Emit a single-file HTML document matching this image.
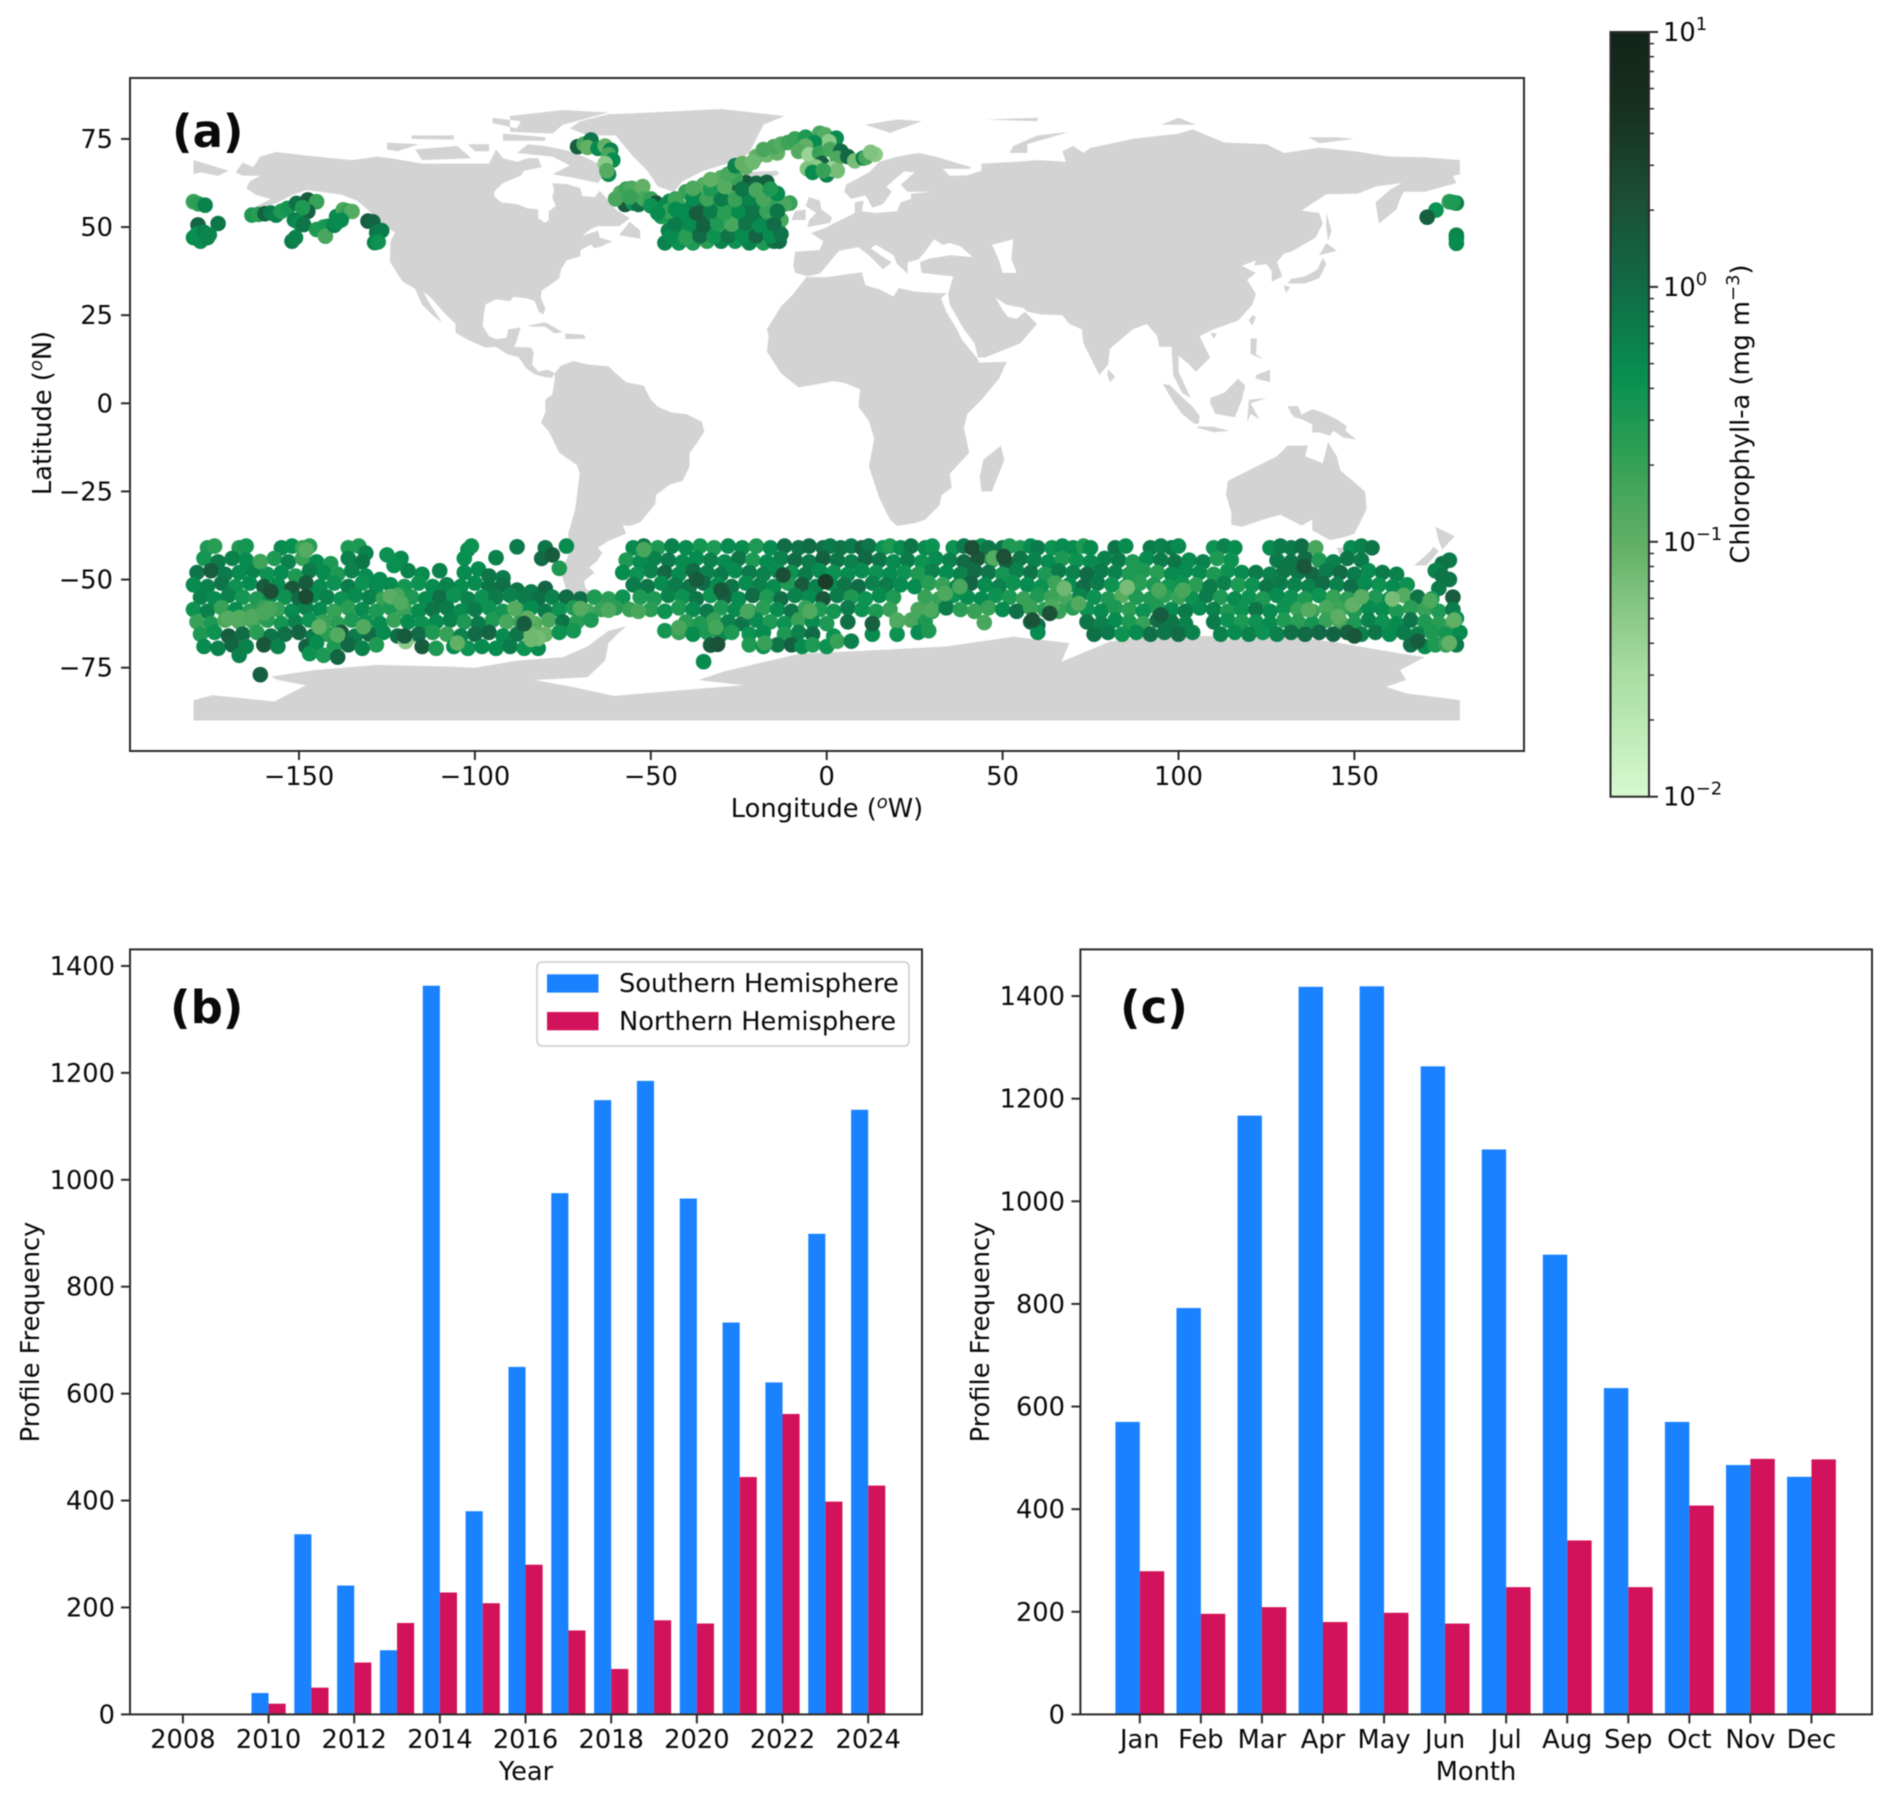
<!DOCTYPE html>
<html lang="en">
<head>
<meta charset="utf-8">
<title>Chlorophyll-a profile distribution</title>
<style>
html,body{margin:0;padding:0;background:#fff}
svg{display:block;filter:blur(.45px)}
text{font-family:"DejaVu Sans","Liberation Sans",sans-serif;fill:#0a0a0a}
</style>
</head>
<body>
<svg id="figure" xmlns="http://www.w3.org/2000/svg" width="1892" height="1799" viewBox="0 0 1892 1799">
<defs><linearGradient id="algae" x1="0" y1="1" x2="0" y2="0"></linearGradient></defs>
<rect width="1892" height="1799" fill="#fff"/>
<g id="panel-a"></g>
<g id="panel-cbar"></g>
<g id="panel-b"></g>
<g id="panel-c"></g>
</svg>
<script>
/* ---------- bar chart data ---------- */
const years=[2008,2009,2010,2011,2012,2013,2014,2015,2016,2017,2018,2019,2020,2021,2022,2023,2024];
const yearSouth=[0,0,40,337,241,120,1363,380,650,975,1149,1185,965,733,621,899,1131];
const yearNorth=[0,0,20,50,97,171,228,208,280,157,85,176,170,444,562,398,428];
const yearTicks=[2008,2010,2012,2014,2016,2018,2020,2022,2024];
const months=['Jan','Feb','Mar','Apr','May','Jun','Jul','Aug','Sep','Oct','Nov','Dec'];
const monthSouth=[570,792,1167,1418,1419,1263,1101,896,636,570,486,463];
const monthNorth=[279,196,209,180,198,177,248,339,248,407,498,497];
const freqTicks=[0,200,400,600,800,1000,1200,1400];
const lonTicks=[-150,-100,-50,0,50,100,150];
const latTicks=[75,50,25,0,-25,-50,-75];
const cbarMajor=[-2,-1,0,1];
const cbarMinorMult=[2,3,4,5,6,7,8,9];

/* ---------- colormap ---------- */
const cmapPos=[0,.17,.33,.45,.55,.67,.78,.9,1];
const cmapCol=[[215,249,208],[166,219,160],[98,176,101],[47,159,85],[7,144,80],[17,106,70],[28,79,54],[23,48,31],[18,36,26]];

/* ---------- land (lon, lat) ---------- */
const landNorthAmerica=[[-168,65.5],[-166,68.3],[-163,67],[-161,70],[-156.5,71.3],[-150,70.5],[-141,69.6],[-135,69],[-128,70],[-124,69.5],[-115,68],[-108,68],[-100,68],[-96,68],[-94,72],[-92,69.5],[-88,68.5],[-85,69.5],[-82,69.5],[-81,67],[-86,66],[-87,64.5],[-92,62.5],[-94.5,60],[-94.5,58.7],[-92.5,57],[-88,56.5],[-85,55.3],[-82,55],[-82,52.5],[-80,51.2],[-79,52],[-79,54.5],[-77,56],[-78,58.5],[-77.5,60.5],[-78,62.4],[-74,62.2],[-70,61],[-69.5,58.8],[-66,58.5],[-64.5,60.3],[-62,57.5],[-60,55],[-56,52.5],[-59,50.2],[-65,50.2],[-67,49.5],[-69.5,47.5],[-65,49],[-64.5,47],[-61,46],[-64,44.5],[-66,44],[-67,45],[-70,43.5],[-70,41.7],[-74,40.5],[-75.5,38],[-76,35.5],[-78,34],[-81,32],[-81.3,30],[-80,27],[-80.5,25.2],[-81.8,26],[-83,29],[-85,29.7],[-89,30.2],[-90,29],[-94,29.5],[-97,28],[-97.5,25],[-97.8,22],[-96,19],[-94,18.2],[-91,18.6],[-90.5,21],[-87,21.5],[-88,18],[-88.8,16],[-84,15.8],[-83.3,14.5],[-83.7,11],[-82,9],[-79.5,9.5],[-77.3,8.6],[-78,7.3],[-80,7.4],[-83,8.2],[-85.5,10],[-87.5,13],[-91,14],[-94,16],[-97,15.8],[-102,18],[-105.5,20],[-105.5,22.5],[-109,26],[-112.5,30],[-114.7,31.7],[-113,28.5],[-110,24],[-109.5,23],[-112,25],[-115,28],[-117,32.5],[-120.5,34.5],[-122.5,37.5],[-124.2,40.3],[-124,46],[-122.7,48.5],[-127,51],[-130,54.5],[-133.5,57.5],[-138,59.2],[-144,60],[-148,60.5],[-152,59],[-156,57],[-161,55.2],[-164.5,54.7],[-158,58],[-162,59],[-165,61],[-164,63],[-161,64.5],[-166,64.6]];
const landSouthAmerica=[[-77.3,8.6],[-75.5,10.7],[-72,12],[-68,11],[-62,10.5],[-60,8.5],[-57,6],[-52,5],[-50,1],[-48,-1],[-44,-2.7],[-40,-3],[-35.5,-5.2],[-34.8,-8],[-37,-11.5],[-39,-14],[-39,-18],[-41,-22],[-44.5,-23],[-48.5,-26],[-48.7,-28.5],[-53,-33.8],[-56,-34.8],[-58,-34.5],[-57,-37],[-62,-39],[-65,-41],[-63.8,-42.5],[-65.5,-45],[-67.5,-46.5],[-66,-48],[-69,-50.5],[-68.5,-52.5],[-65,-55],[-69,-55.5],[-74,-53],[-75.5,-48],[-73,-42],[-73.5,-37],[-71.5,-30],[-70.2,-20],[-71,-17.5],[-76,-14],[-79,-8],[-81.2,-5.5],[-80,-2.5],[-80,1],[-78,2.5],[-77.3,7]];
const landGreenland=[[-73,78],[-68,76],[-60,76],[-55,70],[-51,66],[-48,61.5],[-43.5,60],[-41,63],[-35,66],[-25,69],[-22,71],[-20,75],[-18,79],[-12,81.5],[-30,83.5],[-50,82.5],[-62,82],[-70,80]];
const landAfrica=[[-5.8,35.8],[0,35.8],[10,37.2],[11,33.5],[15,32.3],[19,30.3],[20.5,32.7],[25,31.7],[32,31.2],[34.2,31.3],[32.5,29.8],[34,26],[37,21],[38.5,18],[43,12.5],[43.3,11.5],[51.2,11.8],[49,7],[44,1],[40,-3],[39,-7],[40.5,-14],[35,-20],[35.5,-24],[32.7,-26],[32,-29],[28,-33],[25,-34],[20,-34.8],[18,-33],[15,-27],[12,-18],[13.5,-10],[12,-5],[9,-1],[9.5,4],[5,5.8],[2,6.3],[-4,5.2],[-8,4.5],[-13,8.5],[-17,14.7],[-16.5,19],[-17,21],[-13,27.5],[-9.5,31]];
const landEurasia=[[-9,37],[-9.5,39],[-9,43],[-2,43.5],[-1,46],[-4.5,48.3],[-1,49.5],[2,51],[4,52],[8,54],[8,57],[10.5,57.5],[10,54.5],[14,54],[20,54.5],[21,57],[24,58],[24,59.5],[30,60],[23,60],[21,62],[25,65.5],[22,65.8],[17,61.5],[18.5,60],[16,56.5],[13,55.5],[11,59],[7,58],[5,60],[5.5,62],[12,65.5],[15,68.5],[20,70],[26,71],[31,70],[41,67],[41,66.5],[33,66.5],[35,64.5],[40,64.7],[44,66],[44,68],[54,68.5],[60,69],[68,68.5],[67,71.5],[70,73],[73,71],[75,72.5],[80,73.5],[87,75],[100,76.5],[104,77.7],[113,74],[125,73.5],[130,71],[140,72.5],[150,71.5],[160,70],[170,69.8],[180,69],[180,65],[178,64.5],[179,62.5],[170,60],[164,60],[163,58],[162,55],[157,51],[156,57],[160,60.5],[163.5,62.5],[156,61.5],[151,59.5],[142,59.3],[135,54.7],[140,54],[141,51],[139,47],[132,43],[130,42.5],[128,40],[129.5,36],[126.5,34.5],[126.5,37.5],[125,39.5],[121.5,39],[122,40.5],[118,39],[122,37],[119.5,35],[122,31],[121,28],[117,23.5],[110,21],[106,19],[109,13],[105,9],[103,11],[100,13.5],[100,9],[103.5,1.5],[101,3],[98.5,8],[98,16],[94.5,16],[94,19],[91,22.5],[87,21],[80.5,15.5],[80,11],[77.5,8],[73,17],[72.5,21],[69,22.5],[67,25],[61,25.2],[57,26],[56,27],[51,28],[48,30],[50,26.5],[51.5,24.5],[54,24],[56.3,26],[59.8,22.5],[55,17],[45,13],[43,13],[42,17],[39,21],[35,28],[34.5,31],[36,36],[31,36.5],[27,37],[26.5,40],[29,41],[35,42],[41.5,41.5],[38,44.5],[35,45.5],[33,45],[30.5,46.5],[28,43],[26,40.8],[23,40],[23,36.8],[20,39.5],[19,42],[14,45],[12.5,44],[16,41.5],[18.5,40],[16,38],[12,42],[9,44.3],[3.5,43.3],[0,39],[-2,36.8],[-5.5,36]];
const landAustralia=[[114,-22],[113.5,-26],[115,-31],[115,-34.4],[118,-35],[124,-33],[129,-31.6],[135,-34.7],[138,-33],[138,-36],[143,-38.8],[147,-38],[150,-37],[153.5,-30],[153,-25],[146,-19],[145,-15],[142.5,-11],[141,-17],[136,-15],[136.8,-12],[131,-12],[128,-15],[122,-18]];
const landAntarctica=[[-180,-84.2],[-174.6,-82.8],[-157,-84.6],[-148,-80],[-156,-78.5],[-158,-77.5],[-145.6,-75.7],[-128,-74.2],[-107.6,-74.7],[-100,-75],[-88,-73],[-75,-72],[-68,-69],[-62,-64.5],[-57,-63.3],[-59,-65],[-62,-68],[-63,-73],[-68,-77.7],[-83,-78.5],[-72,-80.5],[-60.5,-83],[-41.7,-81.4],[-23.7,-80],[-36.5,-78.5],[-29,-76],[-7.6,-71],[10.4,-70.2],[33.8,-69],[53,-66.2],[69,-68],[66.7,-73.3],[80.5,-67.6],[91.6,-66.2],[109.6,-66],[113,-67],[130.4,-66],[144,-67.7],[162,-70.8],[170,-72],[163,-75.7],[164.7,-78.5],[159,-80.4],[164.7,-82.3],[180,-84.2],[180,-90],[-180,-90]];
const landIslands=[
[[-180,69],[-175,67.5],[-170,66],[-173,64.5],[-178,65.5],[-180,65]],
[[-80,73],[-73,71.5],[-68,69.5],[-62,66.5],[-65,62.5],[-72,64],[-78,65],[-73,67.5],[-78,70],[-88,71],[-85,73.5]],
[[-117,72],[-105,73],[-101,69.5],[-115,69]],
[[-125,74],[-116,73.5],[-122,71.5],[-125,72]],
[[-90,77],[-78,76.5],[-75,79],[-62,82.5],[-75,83.2],[-90,81.5]],
[[-92,76.5],[-80,75.5],[-80,74.5],[-92,74.5]],
[[-118,76],[-106,76],[-106,74.8],[-118,75]],
[[-95,81],[-87,80],[-88,78],[-95,79.5]],
[[-102,73.5],[-96,73.5],[-96,71.5],[-100,71.5]],
[[-59,47.7],[-53,46.7],[-53,49],[-56,51.5]],
[[-85,22],[-80,23],[-75,20.2],[-77.5,19.9],[-80,21.7],[-84,21.8]],
[[-74.3,19.8],[-69,19.5],[-68.5,18.3],[-74.3,18.2]],
[[-5.5,50],[1,51.2],[1.5,52.8],[-1.5,55],[-2,57.5],[-5,58.5],[-6,56],[-3,54],[-5,52]],
[[-10,52],[-6,52],[-6,55],[-9,54.5]],
[[-24,65.5],[-14,66],[-13.5,65],[-18,63.4],[-22.5,64]],
[[11,79],[20,80.5],[27,80],[18,76.7]],
[[52,71],[57,71],[57,73.5],[69,77],[60,76],[53,73]],
[[95,79],[105,79],[100,81]],
[[45,80.5],[60,81],[60,80]],
[[137,75.5],[145,75.5],[150,75],[140,73.8]],
[[131,34],[136,34],[140,35.5],[142,39.5],[141,41.3],[139.5,38],[136,36],[132,35.3]],
[[140,42],[145,43.3],[142,45.5]],
[[130,33.5],[131.8,33],[130.5,31.2]],
[[142,54],[143.5,49],[142.5,46],[142,50]],
[[121,25],[122,24.5],[121,22],[120,23.5]],
[[109,20],[111,19.8],[110,18.3]],
[[80,9.7],[82,7.5],[80.5,6],[79.8,8]],
[[120.5,18.5],[122.3,18.3],[122,14],[124,12.5],[120.5,14]],
[[122,8],[126,9.5],[126,6],[122,7]],
[[109,1.5],[113,3],[117,7],[119,5],[118,1],[116,-4],[110.5,-3],[109,0]],
[[95.5,5.5],[97.5,5.2],[100.5,2.2],[104,-1],[106,-3.5],[105.8,-5.8],[104.5,-5.8],[101,-3],[98.5,.5]],
[[105.5,-6.5],[110,-6.7],[114.5,-7.8],[110,-8.2],[105.5,-7]],
[[119.5,-5.5],[120,1],[125,1.5],[120.5,0],[123,-4.5],[120.5,-3]],
[[131,-.8],[134,-.8],[135,-3.2],[138,-1.7],[141,-2.6],[145,-4.5],[147.8,-6.5],[147.5,-7.8],[150.5,-10.3],[147,-9.8],[144,-7.8],[143,-9.2],[140,-8.2],[138,-8.3],[138,-6],[135,-4.5],[133,-4],[132,-2.8]],
[[145,-41],[148,-41],[147,-43.5],[146,-43.5]],
[[173,-35],[178.5,-37.7],[175,-41.5],[174,-39]],
[[172.5,-40.7],[174,-42],[170.5,-46],[167,-46],[171,-42.5]],
[[49.5,-12],[50.5,-16],[47,-25],[44,-25],[43.5,-21],[44.5,-16]]
];
const inlandSeas=[[[47,45],[53,46.5],[52.5,41],[54,37],[50,37],[49,40.5]]];

/* ---------- float profile locations: lon, lat, chl (mg m-3) ---------- */
const northPacificProfiles=[[-180,57.2,.2],[-178.6,56.6,.25],[-176.7,56.2,.6],[-178.7,50.6,1.2],[-173,51,.8],[-180,47,.5],[-178,46,.5],[-176,47,.6],[-179,48,.45],[-177,48.5,.6],[-175.5,47.8,.55],[-163.4,53.4,.3],[-161.5,53.6,.25],[-159.7,53.8,1.3],[-158,54,.7],[-156.5,53.4,.6],[-155,54.5,.3],[-153.3,55.3,.35],[-150.7,56.7,.9],[-147.5,57.7,1.5],[-145,57.2,.2],[-147.5,54.4,1.3],[-149,55.5,.3],[-151.3,52,.6],[-150,51.2,.5],[-148.7,50.7,.8],[-152,46,.7],[-151,47,.6],[-145,49.3,.3],[-143,50,.3],[-141.8,50.2,.35],[-142.5,47.4,.15],[-140,50.5,.6],[-139.3,53,.5],[-137.4,54.9,.15],[-136,54.5,.2],[-134.9,54.4,.12],[-138,52,.5],[-139.3,51.2,.5],[-130.4,51.7,1.5],[-129,51.5,1.2],[-127.9,48.4,.8],[-126.5,49,.7],[-128.5,45.6,.6],[-127.5,45.8,.4]];
const northAtlanticProfiles=[[-70.8,72.8,1.4],[-69,73.5,.15],[-67,74.7,.8],[-68,72.6,.1],[-65,72.3,.5],[-63,73,.1],[-61.4,71.8,.6],[-62,70.5,.15],[-60.8,69,.5],[-63,68,.05],[-62,65,.5],[-62.5,66,.12],[-58.6,59.7,.12],[-57,60.8,.18],[-55.5,61,.14],[-53.5,60,.12],[-52.3,61.5,.1],[-57.3,56.4,1.6],[-55,56.8,.4],[-53.5,56.4,.9],[-52,58,.15],[-50,58,.2],[-48.5,56.8,1.8],[-46,56,.5],[-44.7,57.3,.5],[-46,45.5,.6],[-42,45.5,.4],[-38,45.5,.3],[-34,46,.25],[-30,46,.6],[-26,46,.4],[-22,45.5,.6],[-18,45.5,.3],[-15,46,.8],[-13.5,46,1],[-45,49,.6],[-41,49,.35],[-37,49.5,.8],[-33,49,.5],[-29,50,.15],[-25,49.5,.9],[-21,49,.4],[-17,50,.6],[-14,49.5,.9],[-44,52.5,.4],[-40,53,.6],[-36,52,1.4],[-32,53,.2],[-28,52,.7],[-24,53,.5],[-20,52,1.1],[-16,52.5,.3],[-13,52,.15],[-47,53,.3],[-42,56,.15],[-38,56,.8],[-34,56,1],[-30,56.5,.2],[-26,55.5,.3],[-22,56,1.2],[-18,56,.6],[-14,57,.2],[-10.5,56.8,.2],[-12,56.5,.15],[-40,60,.2],[-36,59,.4],[-32,60,.25],[-29,58.5,1.1],[-27,60,.13],[-24,59,.5],[-20,59,.2],[-16,59,.2],[-35,62,.12],[-31,61.5,.1],[-26,62.5,1.5],[-23,62.6,1.7],[-20,62.4,1.2],[-17,62.7,1.3],[-30,64,.12],[-26,64,.2],
[-44,47.5,.5],[-40,47,.25],[-36,47.5,1],[-32,47.5,.4],[-28,47.5,.8],[-24,47.5,.5],[-20,47.5,1.2],[-16,47.5,.5],[-13,48,.8],[-43,50.8,.7],[-39,51,.5],[-35,50.5,1.3],[-31,51,.3],[-27,50.8,.15],[-23,51,.8],[-19,50.5,.5],[-15,51,1],[-45,54.5,.2],[-41,54.5,.5],[-37,54,1.5],[-33,54.5,.7],[-29,54,.25],[-25,54.5,.5],[-21,54,.8],[-17,54.5,.2],[-14,54.5,.8],[-43,58,.18],[-38,58,.5],[-34,58,.18],[-30,58,.7],[-26,57.8,.2],[-22,58,.6],[-18,58,.15],[-14,59.5,.5],[-38,61,.14],[-33,60.8,.3],[-29,61.5,.12],[-24,60.8,.8],[-20,60.5,.15],[-16,60.8,.3],[-33,63.5,.1],[-28,65,.15],[-60,58,.15],[-56,58.5,.2],[-50,56,.4],[-43,55,.5],[-48,54,.5],[-20,70,.1],[-17,70.5,.08],[-23,67,.1],[-14,71,.1]];
const nordicProfiles=[[-26,67.4,.6],[-24,68,.1],[-21,68.4,.08],[-18,72,.15],[-15,72.8,.15],[-13,73.5,.12],[-11,74,.18],[-9,75,.2],[-6,75.5,.3],[-2,76.6,.15],[-.5,76.2,.12],[2.7,75.2,.5],[.6,74.2,.05],[-3.5,74,.5],[-6,73,.1],[-8,71.5,.12],[-5,70.5,.04],[-2,71,.2],[1,72,.15],[4,71.5,1],[3,69.5,.14],[6,70,1.1],[-1.4,68,1.4],[-3,67,.05],[-5.5,66.5,.06],[-4,65.5,.5],[0,64.8,.6],[1.5,66.5,.04],[3,66,.07],[-1,66,.2],[8,68.8,.07],[10.4,69.6,.6],[11.2,69.8,.15],[13.8,70.6,.05],[12.5,71.2,.06]];
const westPacificProfiles=[[177,57.2,.25],[179,56.8,.6],[178,57,.3],[173.2,54.8,.4],[170.7,52.8,1.4],[179,47.7,.6],[179,46.8,.55],[179,45.4,.5]];
const southPacificProfiles=[[-176,-41,.3],[-174,-40.5,.25],[-167,-41,.3],[-165,-40.5,.35],[-155,-41,.5],[-152,-40.5,.45],[-149,-41,.2],[-147,-40.5,.25],[-136,-41,.3],[-133,-40.5,.3],[-131,-42.5,.6],[-102,-41.5,.5],[-101,-40.5,.4],[-88,-40.7,.7],[-80,-41,.8],[-74,-40.5,.5],
[-177,-44,.35],[-173,-45,.7],[-169,-44,.6],[-165,-44.5,.5],[-161,-45,.6],[-157,-44,.3],[-153,-45,.6],[-149,-44,.2],[-145,-45,.5],[-141,-45.5,.3],[-136,-44,.6],[-132,-45,.8],[-125,-43,.4],[-121,-44,.5],[-123,-46,.45],[-103,-44,.45],[-94,-43.8,.6],[-81,-44,1],[-78,-43,1.5],
[-179,-48,.8],[-175,-47.5,1.5],[-171,-48.5,.7],[-167,-48,.5],[-163,-47.5,.6],[-159,-48.5,.4],[-155,-48,.5],[-151,-49,.3],[-147,-47.5,.7],[-143,-48,.5],[-139,-48.5,.3],[-135,-47.5,.6],[-131,-49,.5],[-127,-50,.5],[-119,-47.5,.6],[-115,-48.5,.5],[-110,-47.5,.6],[-103,-48,.5],[-99,-47,.5],[-96,-49,.8],[-92,-49.5,.7],[-76,-46.8,.3],
[-180,-51.5,.5],[-176,-52,.6],[-172,-51,.8],[-168,-52,.4],[-164,-51,.5],[-160,-52,1.5],[-156,-51.5,.5],[-152,-52.5,1.8],[-148,-51,1.6],[-144,-52,.5],[-140,-51,.4],[-136,-52,.7],[-132,-51,.4],[-128,-52,.5],[-124,-51.5,.5],[-120,-52,.35],[-116,-51,.4],[-112,-52,.5],[-108,-51.5,.6],[-104,-52,.5],[-100,-51,.5],[-96,-52,.8],[-92,-51.5,.9],[-88,-53,.8],[-84,-53.5,.7],[-80,-52.5,1.2],
[-178,-55,.6],[-174,-55.5,.5],[-170,-54.5,.6],[-166,-55,.35],[-162,-55.5,.3],[-158,-54.5,.5],[-154,-55,.4],[-150,-55.5,1],[-146,-54.5,.5],[-142,-55,.6],[-138,-55.5,.4],[-134,-54.5,.5],[-130,-55,.6],[-126,-55.5,.2],[-122,-54.5,.15],[-118,-55,.3],[-114,-55.5,.5],[-110,-55,.9],[-106,-54.5,.4],[-102,-55.5,.6],[-98,-55,.4],[-94,-55,.7],[-90,-54.5,.6],[-86,-55,.7],[-82,-55.5,.9],[-78,-55,.6],[-74,-55,1],[-70,-55.5,.9],[-66,-55,.3],[-62,-55.5,.25],[-58,-55,.4],
[-180,-58.5,.4],[-176,-59,.6],[-172,-58,.2],[-168,-58.5,.5],[-164,-59,.25],[-160,-58,.2],[-156,-58.5,.2],[-152,-59,.5],[-148,-58,.6],[-144,-58.5,.5],[-140,-59,.2],[-136,-58,.25],[-132,-58.5,.5],[-128,-59,.3],[-124,-58,.3],[-120,-58.5,.2],[-116,-59,.5],[-112,-58.5,.8],[-108,-58,.7],[-104,-59,.5],[-100,-58.5,.7],[-96,-58,.4],[-92,-59,.35],[-88,-58.5,.25],[-84,-58,.5],[-80,-59,.7],[-76,-58.5,.4],[-72,-58,.3],[-68,-59,.15],[-64,-58.5,.2],[-60,-58,.25],[-56,-58.5,.2],
[-179,-62,.2],[-175,-62.5,.3],[-171,-61.5,.15],[-167,-62,.13],[-163,-62,.15],[-159,-61.5,.25],[-155,-62.5,.35],[-151,-62,.6],[-147,-61.5,.4],[-143,-62,.2],[-139,-62.5,.25],[-135,-61.5,.3],[-131,-62,.4],[-127,-62.5,.5],[-123,-61.5,.2],[-119,-62,.5],[-115,-62.5,.4],[-111,-62,.5],[-107,-61.5,.6],[-103,-62,.3],[-99,-62.5,.7],[-95,-61.5,.3],[-91,-62,.15],[-87,-62,.2],[-83,-62.5,.12],[-79,-61.5,.15],[-75,-62,.8],[-71,-62,.25],[-67,-61.5,.3],
[-178,-65.5,.3],[-174,-65,.4],[-170,-66,1.5],[-166,-65.5,1],[-162,-65,.25],[-158,-66,.8],[-154,-65.5,.9],[-150,-65,1.2],[-146,-66,.7],[-142,-65.5,.25],[-138,-65,1.5],[-134,-66,.7],[-130,-65.5,1],[-126,-65,.5],[-122,-66,.9],[-119,-66.5,.08],[-116,-65.5,1],[-112,-65,.3],[-108,-65.5,.2],[-104,-66,.6],[-100,-65.5,1],[-96,-65,1.2],[-92,-66,.5],[-88,-65.5,.8],[-84,-65.5,.08],[-80,-65.5,.09],[-76,-65,.4],[-72,-64.5,.35],
[-177,-69,.5],[-173,-69.5,.6],[-169,-68.5,1.2],[-165,-69,.6],[-160,-68.5,1.8],[-156,-69,.6],[-148,-69,1.3],[-145,-68,.5],[-140,-69,.3],[-136,-68.5,1.1],[-132,-69.5,.6],[-128,-68.5,.3],[-115,-69,1.5],[-111,-69.5,.3],[-106,-69,.5],[-102,-69.5,.4],[-98,-69,.5],[-94,-69.5,.5],[-90,-69,.7],[-86,-69.5,.4],[-82,-69.5,.5],
[-167,-71.5,.6],[-147,-71,.4],[-143,-71.5,.3],[-139,-72,1.2],[-161,-77,1.3]];
const southAtlanticProfiles=[[-55,-41,.5],[-52,-40.5,.7],[-48,-41,.3],[-44,-40.5,.6],[-40,-41,.5],[-36,-40.5,.35],[-32,-41,.3],[-28,-40.5,.5],[-24,-41,.5],[-20,-40.5,.3],[-16,-41,.5],[-12,-40.5,1],[-8,-41,.8],[-5,-40.5,1],[-1,-41,.9],[1,-40.5,.7],[4,-41,.8],[7,-40.5,.7],[10,-41,1.2],[12,-40.5,.8],[16,-41,.4],[18,-40.5,.3],
[-57,-44.5,.3],[-53,-45,.5],[-49,-44,.6],[-45,-44.5,.7],[-41,-45,.5],[-37,-44,.5],[-33,-44.5,.6],[-29,-45,.5],[-25,-44,.8],[-21,-44.5,.3],[-17,-45,.5],[-13,-44,.6],[-9,-44.5,1],[-5,-45,.7],[-1,-44,1.3],[3,-44.5,.8],[7,-45,.6],[11,-44,1.1],[15,-44.5,.8],[19,-45,.5],
[-58,-48,.5],[-54,-48.5,.4],[-50,-47.5,.6],[-46,-48,1.1],[-42,-48.5,.5],[-38,-47.5,1],[-34,-48,.6],[-30,-48.5,.7],[-26,-47.5,.5],[-22,-48,.7],[-18,-48.5,.6],[-14,-47.5,.5],[-10,-48,.4],[-6,-48.5,.7],[-2,-47.5,.5],[2,-48,.4],[6,-48.5,.5],[10,-47.5,.5],[14,-48,.4],[18,-48.5,.5],
[-55,-51.5,.7],[-51,-52,.8],[-47,-51,.5],[-43,-51.5,.7],[-39,-52,.8],[-35,-51,1],[-31,-51.5,.5],[-27,-52,.8],[-23,-51,.5],[-19,-51.5,.6],[-15,-52,.5],[-11,-51,.3],[-7,-51.5,1.6],[-3,-52,.6],[1,-51,.5],[5,-51.5,.8],[9,-52,1],[13,-51,.6],[17,-51.5,.7],
[-53,-55,.3],[-49,-55.5,.3],[-45,-54.5,.6],[-41,-55,.4],[-37,-55.5,.8],[-33,-54.5,.4],[-29,-55,1.3],[-25,-55.5,.5],[-21,-54.5,1],[-17,-55,.3],[-13,-55.5,1],[-9,-54.5,.6],[-5,-55,.5],[-1,-55.5,1.8],[3,-54.5,.7],[7,-55,.3],[11,-55.5,.4],[15,-54.5,.5],[19,-55,.3],
[-50,-58.5,.25],[-46,-59,.4],[-42,-58,.3],[-38,-58.5,.5],[-34,-59,.7],[-30,-58,.3],[-26,-58.5,.5],[-22,-59,.3],[-18,-58,.25],[-14,-58.5,.5],[-10,-59,.8],[-6,-58,.2],[-2,-58.5,.3],[2,-59,.35],[6,-58,.7],[10,-58.5,.4],[14,-59,.3],[18,-58.5,.2],
[-40,-62,.25],[-36,-62.5,.3],[-32,-61.5,.2],[-28,-62,.6],[-24,-62.5,.8],[-20,-61.5,.5],[-16,-62,.3],[-12,-62.5,.4],[-8,-61.5,.2],[-4,-62,.5],[0,-62.5,.3],[6,-62,.9],
[-46,-64.5,.35],[-42,-65,.2],[-38,-65.5,.5],[-34,-65,.3],[-30,-65.5,.5],[-27,-65,.3],[-22,-65.5,.4],[-18,-65,.5],[-12,-65.5,.3],[-8,-65,.6],[-4,-65.5,1],[2,-66,.4],[13,-65.5,.5],
[-33,-68.6,1.5],[-31,-68.4,2],[-22,-68.5,.3],[-18,-69,.4],[-14,-68.5,.8],[-10,-68.5,1.3],[-7,-69,.5],[-4,-68.5,.3],[0,-69,.4],[3,-67.5,.2],[7,-67.5,.6],[-35,-73.3,.5]];
const southIndianProfiles=[[21,-41,.5],[24,-40.5,.8],[28,-41,.5],[30,-40.5,.4],[36,-41,.4],[39,-40.5,.7],[42,-41,1.1],[44,-40.5,.4],[46,-41,.8],[50,-41,.8],[52,-40.5,.3],[55,-41,.3],[58,-40.5,.5],[60,-41,.7],[64,-41,.4],[67,-40.5,.5],[70,-41,.5],[73,-40.5,.3],[75,-41,.5],[82,-41,.8],[85,-40.5,.5],[92,-41,.7],[95,-40.5,.6],[98,-41,.7],[100,-40.5,.5],[110,-41,.4],[113,-40.5,.6],[116,-41,.5],
[23,-44.5,.7],[27,-45,.4],[31,-44,.5],[35,-44.5,.6],[39,-45,1],[43,-44,1.8],[47,-44.5,.3],[51,-45,1.4],[55,-44,.8],[59,-44.5,.6],[63,-45,.5],[67,-44,.3],[71,-44.5,.4],[75,-45,.5],[79,-44,.6],[83,-44.5,.7],[87,-45,.3],[91,-44,.5],[95,-44.5,.7],[99,-45,.8],[103,-44.5,.5],[107,-45,.6],[111,-44,.3],[115,-44.5,.4],
[22,-48,.4],[26,-48.5,.3],[30,-47.5,.6],[34,-48,.5],[38,-48.5,.6],[42,-47.5,1],[46,-48,.8],[50,-48.5,.35],[54,-47.5,.6],[58,-48,.8],[62,-48.5,.3],[66,-47.5,.7],[70,-48,.6],[74,-48.5,1],[78,-47.5,.7],[82,-48,.6],[86,-48.5,.3],[90,-47.5,.3],[94,-48,.25],[98,-48.5,.5],[102,-47.5,.5],[106,-48,.5],[110,-48.5,.3],[114,-47.5,.4],[118,-48,.5],
[21,-51.5,.5],[25,-52,.5],[29,-51,.25],[33,-51.5,.2],[37,-52,.6],[41,-51,1.2],[45,-51.5,.5],[49,-52,.6],[53,-51,.4],[57,-51.5,.5],[61,-52,.4],[65,-51,.18],[69,-51.5,.5],[73,-52,1],[77,-51,.7],[81,-51.5,.4],[85,-52,.4],[89,-51,.25],[93,-51.5,.3],[97,-52,.35],[101,-51,.4],[105,-51.5,.25],[109,-52,.7],[113,-51,.6],[117,-51.5,.3],
[28,-55,.2],[32,-55.5,.2],[36,-54.5,.4],[40,-55,.5],[44,-55.5,.5],[48,-54.5,.4],[52,-55,.3],[56,-55.5,.2],[60,-54.5,.3],[64,-55,.18],[68,-55.5,.15],[72,-54.5,.6],[76,-55,.4],[80,-55.5,.3],[84,-54.5,.12],[88,-55,.3],[92,-55.5,.3],[96,-54.5,.25],[100,-55,.2],[104,-55.5,.4],[108,-54.5,.7],[112,-55,.3],[116,-55.5,.5],
[26,-58.5,.15],[30,-59,.25],[34,-58,.7],[38,-58.5,.25],[42,-59,.2],[46,-58,.2],[50,-58.5,.5],[54,-59,.9],[58,-58,.2],[62,-58.5,.25],[66,-59,.2],[70,-58,.25],[74,-58.5,.4],[78,-59,.5],[82,-58,.3],[86,-58.5,.25],[90,-59,.4],[94,-58,.3],[98,-58.5,.5],[102,-59,.7],[106,-58,.5],[110,-58.5,.6],[114,-59,.3],[118,-58.5,.4],
[20,-62,.18],[24,-61.5,.15],[28,-62,.3],[44.8,-62.2,.15],[58,-62,1.2],[60,-63,.9],[74,-62,.8],[78,-62.5,.6],[82,-61.5,.5],[86,-62,.3],[90,-62.5,.2],[94,-61.5,1],[98,-62,.8],[102,-62.5,.6],[110,-62,.7],[114,-61.5,.4],[118,-62,.3],
[20,-65.5,.4],[26,-65,.5],[29,-64.5,.3],[60,-65,.5],[76,-65.5,.9],[80,-65,.7],[84,-65.5,.4],[88,-65,.5],[92,-65.5,.9],[96,-65,.8],[100,-65.5,1],[104,-65,.6],[112,-65.5,.6],[116,-65,.5]];
const tasmanProfiles=[[126,-41,.5],[129,-40.5,.7],[132,-41,.7],[135,-40.5,.9],[139,-41,.15],[149,-41,.5],[152,-40.5,.6],[155,-41,.8],
[128,-44.5,.7],[132,-45,.8],[136,-44,1],[140,-44.5,.3],[144,-45,.6],[148,-44,.8],[152,-44.5,.7],[177,-44.5,.7],[175,-45.5,.8],
[122,-48,.7],[126,-48.5,.6],[130,-47.5,.8],[134,-48,.8],[138,-48.5,1.1],[142,-47.5,.7],[146,-48,1],[150,-48.5,.7],[154,-47.5,.5],[158,-48,.7],[162,-48.5,.6],[173,-47.5,.6],[177,-50,.8],[175,-49,.8],
[121,-51.5,.4],[125,-52,.8],[129,-51,.7],[133,-51.5,.6],[137,-52,.6],[141,-51,1],[145,-51.5,.6],[149,-52,.9],[153,-51,.5],[157,-51.5,.4],[161,-52,.5],[165,-51.5,.4],[174,-52.5,.7],
[120,-55,.4],[124,-55.5,.3],[128,-54.5,.5],[132,-55,.4],[136,-55.5,.3],[140,-54.5,.4],[144,-55,.2],[148,-55.5,.25],[152,-54.5,.6],[156,-55,.3],[160,-55.5,.5],[164,-54.5,.12],[168,-55,.8],[172,-55.5,.3],[178,-55,1.5],
[122,-58.5,.8],[126,-59,.5],[130,-58,.4],[134,-58.5,.2],[138,-59,.2],[142,-58,.15],[146,-58.5,.18],[150,-59,.3],[154,-58,.5],[158,-58.5,.5],[162,-59,.3],[166,-58,.25],[170,-58.5,.2],[174,-59,.3],[178,-58.5,.7],
[122,-62,.4],[126,-62.5,.5],[130,-61.5,.3],[134,-62,.25],[138,-62.5,.35],[142,-61.5,.2],[146,-62,.15],[150,-62.5,.3],[154,-61.5,.6],[158,-62,.4],[162,-62.5,.5],[166,-61.5,.8],[170,-62,.3],[174,-62.5,.25],[178,-62,.15],[179,-61,.5],
[120,-65.5,.6],[124,-65,.4],[128,-65.5,.6],[132,-65,.9],[136,-65.5,1],[140,-65,1.1],[144,-65.5,1.2],[148,-65,1.3],[152,-65.5,.6],[156,-65,.8],[160,-65.5,.5],[164,-65,.7],[168,-65.5,.6],[172,-65,.3],[176,-65.5,.35],[180,-65,.5],
[166,-68.5,.9],[170,-69,.5],[173,-68.5,.3],[176,-68.5,.2],[179,-68.5,.7],[168,-67.5,1.5]];
const patchProfiles=[[-170,-61,.12],[-167,-60.8,.12],[-163.5,-60.5,.13],[-160,-59.5,.15],[-158.4,-58.2,.15],[-148,-41.6,.12],[-161,-44.9,.18],[-144.3,-63.4,.1],[-139,-65.7,.12],[-131.7,-63.4,.13],[-124,-54.8,.11],[-121,-56.5,.13],[-119.7,-67.6,.05],[-105,-68,.1],[-88.7,-58.2,.12],[-85,-61,.1],[-82,-66.7,.07],[-84,-67,.08],[-70,-58.2,.12],[-62,-58.7,.14],[-53.5,-59,.15],[-52,-41.5,.15],[-42,-63.6,.15],[-31.5,-63.6,.16],[-22.5,-59,.15],[-17.6,-68,.2],[-4.8,-59,.13],[20,-61.5,.13],[33.7,-54,.14],[37.9,-52,.15],[29.6,-58.6,.14],[47.5,-43.9,.12],[67.5,-52.5,.08],[71.6,-56.8,.13],[64,-57.7,.14],[85.4,-52.2,.07],[94.4,-53,.15],[101.3,-53,.15],[137,-58.6,.12],[145.4,-60.5,.11],[149.5,-57.2,.1],[152,-54.9,.11],[160.8,-55.5,.07],[178.4,-61.5,.1],[171.5,-56,.14],[177,-68,.1],
[-158,-53.4,2.2],[-148,-54.9,2.4],[-12.4,-48.7,2.2],[-.3,-50.6,3.5],[41.3,-41,2.2],[50.3,-43.5,2.2],[63.4,-59.6,2],[58.5,-61.5,2],[135.7,-46.3,1.8],[-120,-66,1.6],[-86,-62.5,1.5],[-30,-53,1.8],[-37,-50,1.6],[13,-62.5,1.4],[95,-60,1.5],[150,-66,1.8]];

/* ---------- axis functions ---------- */
const xMap=lon=>826.7+3.518*lon;
const yMap=lat=>403.3-3.525*lat;
const yCbar=e=>796.7-(e+2)*254.9;
const xYear=y=>182.9+(y-2008)*42.83;
const yYear=v=>1714.4-.5346*v;
const xMonth=i=>1139.8+i*61.06;
const yMonth=v=>1714.4-.5131*v;
const BAR_YEAR=17.1, BAR_MONTH=24.4, FS=25.7, SUP=18, DOT=7.8;
const TICK='#2b2b2b', SOUTH='#1a82ff', NORTH='#d2125a', LAND='#d3d3d3';

const NS='http://www.w3.org/2000/svg';
function el(tag,attrs,parent){
  const e=document.createElementNS(NS,tag);
  for(const k in attrs)e.setAttribute(k,attrs[k]);
  parent.appendChild(e);
  return e;
}
function txt(parent,x,y,s,size,anchor,rot,weight){
  const a={x:x,y:y,'font-size':size,'text-anchor':anchor||'middle'};
  if(rot)a.transform='rotate('+rot+' '+x+' '+y+')';
  if(weight)a['font-weight']=weight;
  const t=el('text',a,parent);
  t.textContent=s;
  return t;
}
function sup(t,s,size,up,italic){
  const a=el('tspan',{dy:-up,'font-size':size},t);
  if(italic)a.setAttribute('font-style','italic');
  a.textContent=s;
  
  
  return up;
}
function after(t,s,up){
  const a=el('tspan',{dy:up},t);
  a.textContent=s;
  
  
}
function frame(p,x,y,w,h){
  const r=el('rect',{x:x,y:y,width:w,height:h,fill:'none',stroke:TICK,'stroke-width':2},p);
  
  
}
function tick(p,x1,y1,x2,y2,w){
  const l=el('line',{x1:x1,y1:y1,x2:x2,y2:y2,stroke:TICK,'stroke-width':w||2},p);
  
  
}
function cmap(t){
  t=Math.max(0,Math.min(1,t));
  let i=0;
  while(i<cmapPos.length-2&&t>cmapPos[i+1])i++;
  const f=(t-cmapPos[i])/(cmapPos[i+1]-cmapPos[i]);
  const c=cmapCol[i].map((v,k)=>Math.round(v+(cmapCol[i+1][k]-v)*f));
  return 'rgb('+c.join(',')+')';
}
const pathOf=poly=>'M'+poly.map(q=>xMap(q[0]).toFixed(1)+' '+yMap(q[1]).toFixed(1)).join('L')+'Z';

/* ---------- panel a ---------- */
const pa=document.getElementById('panel-a');
const landList=[landNorthAmerica,landSouthAmerica,landGreenland,landAfrica,landEurasia,landAustralia,landAntarctica].concat(landIslands);
const landPath=el('path',{d:landList.map(pathOf).join(''),fill:LAND},pa);


const seaPath=el('path',{d:inlandSeas.map(pathOf).join(''),fill:'#fff'},pa);


const allProfiles=[northPacificProfiles,northAtlanticProfiles,nordicProfiles,westPacificProfiles,southPacificProfiles,southAtlanticProfiles,southIndianProfiles,tasmanProfiles,patchProfiles];
allProfiles.forEach(group=>group.forEach(pt=>{
  const c=el('circle',{cx:xMap(pt[0]).toFixed(1),cy:yMap(pt[1]).toFixed(1),r:DOT,fill:cmap((Math.log10(pt[2])+2)/3)},pa);
  
  
}));
frame(pa,130,78,1394,673);
lonTicks.forEach(v=>{
  tick(pa,xMap(v),751,xMap(v),760);
  const t=txt(pa,xMap(v),785,String(v).replace('-','\u2212'),FS);
  
  
});
latTicks.forEach(v=>{
  tick(pa,130,yMap(v),121,yMap(v));
  const t=txt(pa,113,yMap(v)+9,String(v).replace('-','\u2212'),FS,'end');
  
  
});
const lonTitle=txt(pa,827,817,'Longitude (',FS);


after(lonTitle,'',0);sup(lonTitle,'o',SUP,9,true);after(lonTitle,'W)',9);
const latTitle=txt(pa,51,413,'Latitude (',FS,'middle',-90);


after(latTitle,'',0);sup(latTitle,'o',SUP,9,true);after(latTitle,'N)',9);
const labelA=txt(pa,172,147,'(a)',45,'start',0,'bold');



/* ---------- colorbar ---------- */
const grad=document.getElementById('algae');
cmapPos.forEach(p=>{
  const s=el('stop',{offset:p,'stop-color':cmap(p)},grad);
  
  
});
const pc=document.getElementById('panel-cbar');
const cb=el('rect',{x:1610.5,y:yCbar(1),width:38.5,height:yCbar(-2)-yCbar(1),fill:'url(#algae)',stroke:TICK,'stroke-width':2},pc);


cbarMajor.forEach(e=>{
  tick(pc,1649,yCbar(e),1658,yCbar(e));
  const t=txt(pc,1663,yCbar(e)+9,'10',FS,'start');
  
  
  sup(t,String(e).replace('-','\u2212'),SUP,11,false);
  if(e<1)cbarMinorMult.forEach(m=>tick(pc,1649,yCbar(e+Math.log10(m)),1654,yCbar(e+Math.log10(m)),1.5));
});
const cbTitle=txt(pc,1749,414,'Chlorophyll-a (mg m',FS,'middle',-90);


after(cbTitle,'',0);sup(cbTitle,'\u22123',SUP,10,false);after(cbTitle,')',10);

/* ---------- panel b ---------- */
const pb=document.getElementById('panel-b');
years.forEach((y,i)=>{
  const s=el('rect',{x:xYear(y)-BAR_YEAR,y:yYear(yearSouth[i]),width:BAR_YEAR,height:yYear(0)-yYear(yearSouth[i]),fill:SOUTH},pb);
  
  
  const n=el('rect',{x:xYear(y),y:yYear(yearNorth[i]),width:BAR_YEAR,height:yYear(0)-yYear(yearNorth[i]),fill:NORTH},pb);
  
  
});
frame(pb,130,949.4,792,765);
yearTicks.forEach(y=>{
  tick(pb,xYear(y),1714.4,xYear(y),1723.4);
  const t=txt(pb,xYear(y),1748,String(y),FS);
  
  
});
freqTicks.forEach(v=>{
  tick(pb,130,yYear(v),121,yYear(v));
  const t=txt(pb,115,yYear(v)+9,String(v),FS,'end');
  
  
});
const yearTitle=txt(pb,526,1780,'Year',FS);


const freqB=txt(pb,39,1332,'Profile Frequency',FS,'middle',-90);


const labelB=txt(pb,170,1023,'(b)',45,'start',0,'bold');


const legendBox=el('rect',{x:537,y:962,width:372,height:84,rx:5,fill:'#fff','fill-opacity':.8,stroke:'#ccc','stroke-width':1.5},pb);


const legSwatchS=el('rect',{x:547,y:974.3,width:51.5,height:18.3,fill:SOUTH},pb);


const legTextS=txt(pb,619,992,'Southern Hemisphere',FS,'start');


const legSwatchN=el('rect',{x:547,y:1012,width:51.5,height:18.3,fill:NORTH},pb);


const legTextN=txt(pb,619,1030,'Northern Hemisphere',FS,'start');



/* ---------- panel c ---------- */
const pm=document.getElementById('panel-c');
months.forEach((m,i)=>{
  const s=el('rect',{x:xMonth(i)-BAR_MONTH,y:yMonth(monthSouth[i]),width:BAR_MONTH,height:yMonth(0)-yMonth(monthSouth[i]),fill:SOUTH},pm);
  
  
  const n=el('rect',{x:xMonth(i),y:yMonth(monthNorth[i]),width:BAR_MONTH,height:yMonth(0)-yMonth(monthNorth[i]),fill:NORTH},pm);
  
  
  tick(pm,xMonth(i),1714.4,xMonth(i),1723.4);
  const t=txt(pm,xMonth(i),1748,m,FS);
  
  
});
frame(pm,1080.4,949.4,791.6,765);
freqTicks.forEach(v=>{
  tick(pm,1080.4,yMonth(v),1071.4,yMonth(v));
  const t=txt(pm,1065,yMonth(v)+9,String(v),FS,'end');
  
  
});
const monthTitle=txt(pm,1476,1780,'Month',FS);


const freqC=txt(pm,989,1332,'Profile Frequency',FS,'middle',-90);


const labelC=txt(pm,1120,1023,'(c)',45,'start',0,'bold');


</script>
</body>
</html>
